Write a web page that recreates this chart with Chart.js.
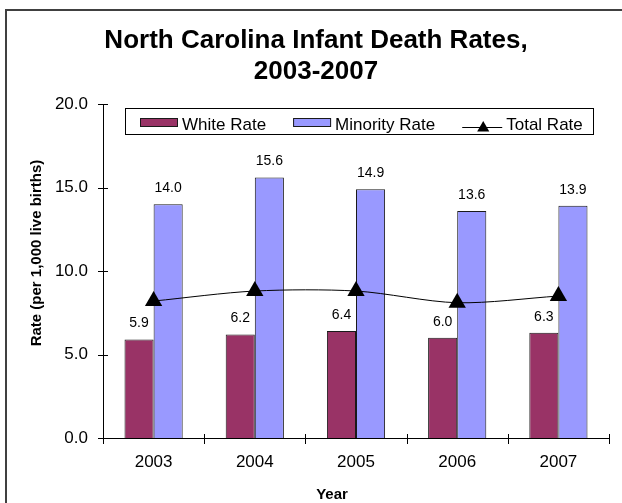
<!DOCTYPE html>
<html>
<head>
<meta charset="utf-8">
<title>North Carolina Infant Death Rates, 2003-2007</title>
<script src="https://cdn.jsdelivr.net/npm/chart.js@4.4.1/dist/chart.umd.min.js"></script>
<style>
  html, body { margin: 0; padding: 0; background: #fff; }
  canvas { display: block; }
</style>
</head>
<body>
<canvas id="infantDeaths" width="622" height="503"></canvas>
<script>
// values
const years = ['2003', '2004', '2005', '2006', '2007'];
const whiteRate = [5.9, 6.2, 6.4, 6.0, 6.3];
const minorityRate = [14.0, 15.6, 14.9, 13.6, 13.9];
const totalRate = [8.2, 8.8, 8.8, 8.1, 8.5];
const yTickValues = [0, 5, 10, 15, 20];

const FONT = "'Liberation Sans', Arial, sans-serif";
Chart.defaults.font.family = FONT;
Chart.defaults.color = '#000';

// white page with the dark frame on top and left
const frame = {
    id: 'frame',
    beforeDraw(chart) {
        const ctx = chart.ctx;
        ctx.save();
        ctx.fillStyle = '#fff';
        ctx.fillRect(0, 0, chart.width, chart.height);
        ctx.strokeStyle = '#404040';
        ctx.lineWidth = 2;
        ctx.beginPath();
        ctx.moveTo(6, chart.height);
        ctx.lineTo(6, 10);
        ctx.lineTo(chart.width, 10);
        ctx.stroke();
        ctx.restore();
    }
};

// value labels above the bars
const barLabels = {
    id: 'barLabels',
    afterDatasetsDraw(chart) {
        const ctx = chart.ctx;
        ctx.save();
        ctx.font = '14px ' + FONT;
        ctx.fillStyle = '#000';
        ctx.textAlign = 'center';
        ctx.textBaseline = 'middle';
        chart.data.datasets.forEach((ds, i) => {
            if (ds.type !== 'bar') return;
            chart.getDatasetMeta(i).data.forEach((bar, j) => {
                ctx.fillText(ds.data[j].toFixed(1), bar.x, bar.y - 16);
            });
        });
        ctx.restore();
    }
};

// tick marks crossing the axes, and the axis titles
const axisExtras = {
    id: 'axisExtras',
    afterDraw(chart) {
        const { ctx, chartArea, scales: { x, y } } = chart;
        ctx.save();
        ctx.strokeStyle = '#000';
        ctx.lineWidth = 1;
        ctx.beginPath();
        y.ticks.forEach(t => {
            const py = Math.round(y.getPixelForValue(t.value)) + 0.5;
            ctx.moveTo(chartArea.left - 5, py);
            ctx.lineTo(chartArea.left + 5, py);
        });
        const step = x.getPixelForValue(1) - x.getPixelForValue(0);
        for (let i = 0; i <= years.length; i++) {
            const px = Math.round(x.getPixelForValue(0) + (i - 0.5) * step) + 0.5;
            ctx.moveTo(px, chartArea.bottom - 4);
            ctx.lineTo(px, chartArea.bottom + 6);
        }
        ctx.stroke();

        ctx.fillStyle = '#000';
        ctx.font = 'bold 15px ' + FONT;
        ctx.textAlign = 'center';
        ctx.textBaseline = 'middle';
        ctx.fillText('Year', 332, 495);
        ctx.translate(36.5, 253);
        ctx.rotate(-Math.PI / 2);
        ctx.fillText('Rate (per 1,000 live births)', 0, 0);
        ctx.restore();
    }
};

// boxed legend sitting inside the plot
const boxLegend = {
    id: 'boxLegend',
    afterDraw(chart) {
        const ctx = chart.ctx;
        ctx.save();
        ctx.fillStyle = '#fff';
        ctx.fillRect(125, 108, 468, 26);
        ctx.strokeStyle = '#000';
        ctx.lineWidth = 1;
        ctx.strokeRect(125.5, 108.5, 468, 26);

        ctx.font = '17px ' + FONT;
        ctx.textBaseline = 'middle';
        ctx.textAlign = 'left';
        const order = ['White Rate', 'Minority Rate', 'Total Rate'];
        let cx = 140;
        order.forEach(name => {
            const ds = chart.data.datasets.find(d => d.label === name);
            let textX;
            if (ds.type === 'bar') {
                ctx.fillStyle = ds.backgroundColor;
                ctx.fillRect(cx, 118.5, 38, 8);
                ctx.strokeStyle = ds.borderColor;
                ctx.strokeRect(cx + 0.5, 118.5, 37, 8);
                textX = cx + 42;
            } else {
                ctx.strokeStyle = ds.borderColor;
                ctx.beginPath();
                ctx.moveTo(cx, 127.5);
                ctx.lineTo(cx + 40, 127.5);
                ctx.stroke();
                ctx.fillStyle = ds.pointBackgroundColor;
                Chart.helpers.drawPoint(ctx, { pointStyle: 'triangle', radius: 7, borderWidth: 0 }, cx + 21, 128);
                textX = cx + 44;
            }
            ctx.fillStyle = '#000';
            ctx.fillText(name, textX, 125);
            cx = textX + ctx.measureText(name).width + 27;
        });
        ctx.restore();
    }
};

new Chart(document.getElementById('infantDeaths'), {
    type: 'bar',
    data: {
        labels: years,
        datasets: [
            {
                type: 'line',
                label: 'Total Rate',
                data: totalRate,
                order: 0,
                borderColor: '#000',
                borderWidth: 1,
                backgroundColor: '#000',
                pointBackgroundColor: '#000',
                pointBorderWidth: 0,
                pointStyle: 'triangle',
                pointRadius: 10,
                tension: 0.3
            },
            {
                type: 'bar',
                label: 'White Rate',
                data: whiteRate,
                order: 1,
                backgroundColor: '#993366',
                borderColor: '#1a1a1a',
                borderWidth: 1
            },
            {
                type: 'bar',
                label: 'Minority Rate',
                data: minorityRate,
                order: 1,
                backgroundColor: '#9999ff',
                borderColor: '#1a1a1a',
                borderWidth: 1
            }
        ]
    },
    options: {
        responsive: false,
        animation: false,
        events: [],
        layout: { padding: { left: 23, right: 13, top: 0, bottom: 0 } },
        datasets: { bar: { categoryPercentage: 0.575, barPercentage: 1 } },
        plugins: {
            legend: { display: false },
            tooltip: { enabled: false },
            title: {
                display: true,
                text: ['North Carolina Infant Death Rates,', '2003-2007'],
                color: '#000',
                font: { size: 26, weight: 'bold', lineHeight: 1.2 },
                padding: { top: 25, bottom: 16.6 }
            }
        },
        scales: {
            x: {
                grid: { display: false, drawTicks: false },
                border: { display: true, color: '#000', width: 1 },
                ticks: { font: { size: 17 }, color: '#000', padding: 14 },
                afterFit(scale) { scale.height = 65; }
            },
            y: {
                min: 0,
                max: 20,
                grid: { display: false, drawTicks: false },
                border: { display: true, color: '#000', width: 1 },
                ticks: {
                    font: { size: 17 },
                    color: '#000',
                    padding: 15,
                    callback: v => v.toFixed(1)
                },
                afterBuildTicks(scale) {
                    scale.ticks = yTickValues.map(v => ({ value: v }));
                },
                afterFit(scale) { scale.width = 80; }
            }
        }
    },
    plugins: [frame, barLabels, axisExtras, boxLegend]
});
</script>
</body>
</html>
